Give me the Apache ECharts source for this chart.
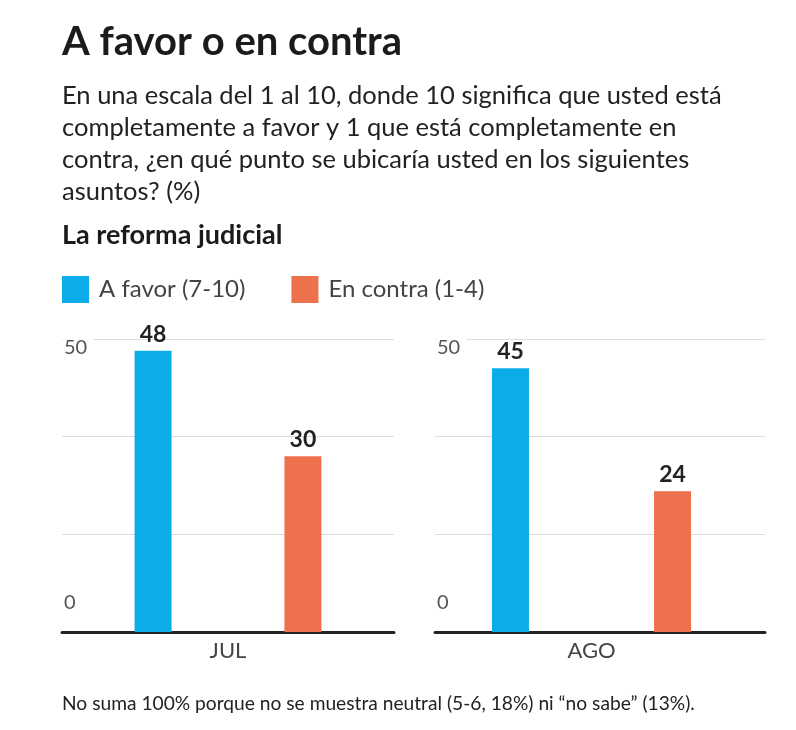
<!DOCTYPE html>
<html>
<head>
<meta charset="utf-8">
<script src="https://cdn.jsdelivr.net/npm/echarts@6/dist/echarts.min.js"></script>
<style>
html,body{margin:0;padding:0;background:#fff;}
#chart{width:796px;height:730px;}
</style>
</head>
<body>
<div id="chart"></div>
<script>
// ---- data ----
const categories = ['JUL', 'AGO'];
const seriesNames = ['A favor (7-10)', 'En contra (1-4)'];
const favor = [48, 45];
const contra = [30, 24];
const yLabelTicks = [0, 50];
const titleText = 'A favor o en contra';
const subtitleLines = [
  'En una escala del 1 al 10, donde 10 significa que usted está',
  'completamente a favor y 1 que está completamente en',
  'contra, ¿en qué punto se ubicaría usted en los siguientes',
  'asuntos? (%)'
];
const sectionTitle = 'La reforma judicial';
const footnote = 'No suma 100% porque no se muestra neutral (5-6, 18%) ni “no sabe” (13%).';

// ---- style ----
const FONT = 'Lato, "Open Sans", sans-serif';
const BLUE = '#0AADE9';
const ORANGE = '#EE714E';
const Y_MAX = 50;

const chart = echarts.init(document.getElementById('chart'), null, {renderer: 'canvas'});

function yAxisFor(gridIndex, show) {
  return {
    type: 'value', gridIndex: gridIndex, min: 0, max: Y_MAX, interval: Y_MAX / 3,
    show: show,
    axisLine: {show: false}, axisTick: {show: false},
    splitLine: {show: show, lineStyle: {color: '#dcdcdc', width: 1}},
    axisLabel: {
      show: show, inside: true, margin: 1,
      fontFamily: FONT,
      formatter: function (v) {
        if (Math.abs(v - yLabelTicks[1]) < 1e-6) return '{t|' + yLabelTicks[1] + '}';
        if (Math.abs(v - yLabelTicks[0]) < 1e-6) return '{b|' + yLabelTicks[0] + '}';
        return '';
      },
      rich: {
        t: {fontSize: 20, color: '#555', fontFamily: FONT, padding: [18, 6, 0, 1], backgroundColor: '#fff'},
        b: {fontSize: 20, color: '#555', fontFamily: FONT, padding: [0, 0, 58, 1]}
      }
    }
  };
}

const barLabel = {
  show: true, position: 'top', distance: 5,
  fontSize: 23, fontWeight: 'bold', color: '#222', fontFamily: FONT
};

const option = {
  backgroundColor: '#fff',
  animation: false,
  textStyle: {fontFamily: FONT},
  title: [
    {text: titleText, left: 62, top: 22, padding: 0,
     textStyle: {fontSize: 40, fontWeight: 'bold', color: '#1b1b1b', fontFamily: FONT}},
    {text: subtitleLines.join('\n'), left: 62, top: 80, padding: 0,
     textStyle: {fontSize: 25.5, lineHeight: 32, fontWeight: 'normal', color: '#222', fontFamily: FONT}},
    {text: sectionTitle, left: 62, top: 222, padding: 0,
     textStyle: {fontSize: 27, fontWeight: 'bold', color: '#1b1b1b', fontFamily: FONT}},
    {text: footnote, left: 62, top: 694, padding: 0,
     textStyle: {fontSize: 19.2, fontWeight: 'normal', color: '#222', fontFamily: FONT}}
  ],
  legend: {
    left: 62, top: 276, padding: 0,
    itemWidth: 27, itemHeight: 27, itemGap: 46, icon: 'rect',
    data: seriesNames,
    textStyle: {fontSize: 24, color: '#444', fontFamily: FONT, padding: [0, 0, 0, 5]}
  },
  grid: [
    {left: 62, right: 402, top: 339, bottom: 98},
    {left: 435, right: 31, top: 339, bottom: 98},
    {left: 427, right: 40, top: 339, bottom: 98}
  ],
  xAxis: [
    {type: 'category', gridIndex: 0, data: [categories[0]],
     axisLine: {lineStyle: {color: '#222', width: 3}}, axisTick: {show: false},
     axisLabel: {fontSize: 22, color: '#444', margin: 8, fontFamily: FONT}},
    {type: 'category', gridIndex: 1, data: [categories[1]],
     axisLine: {lineStyle: {color: '#222', width: 3}}, axisTick: {show: false},
     axisLabel: {show: false}},
    {type: 'category', gridIndex: 2, data: [categories[1]],
     axisLine: {show: false}, axisTick: {show: false},
     axisLabel: {fontSize: 22, color: '#444', margin: 8, fontFamily: FONT}}
  ],
  yAxis: [yAxisFor(0, true), yAxisFor(1, true), yAxisFor(2, false)],
  series: [
    {name: seriesNames[0], type: 'bar', xAxisIndex: 0, yAxisIndex: 0, data: [favor[0]],
     barWidth: 37, barGap: '305%', itemStyle: {color: BLUE}, label: barLabel},
    {name: seriesNames[1], type: 'bar', xAxisIndex: 0, yAxisIndex: 0, data: [contra[0]],
     barWidth: 37, barGap: '305%', itemStyle: {color: ORANGE}, label: barLabel},
    {name: seriesNames[0], type: 'bar', xAxisIndex: 2, yAxisIndex: 2, data: [favor[1]],
     barWidth: 37, barGap: '338%', itemStyle: {color: BLUE}, label: barLabel},
    {name: seriesNames[1], type: 'bar', xAxisIndex: 2, yAxisIndex: 2, data: [contra[1]],
     barWidth: 37, barGap: '338%', itemStyle: {color: ORANGE}, label: barLabel}
  ]
};
chart.setOption(option);
</script>
</body>
</html>
